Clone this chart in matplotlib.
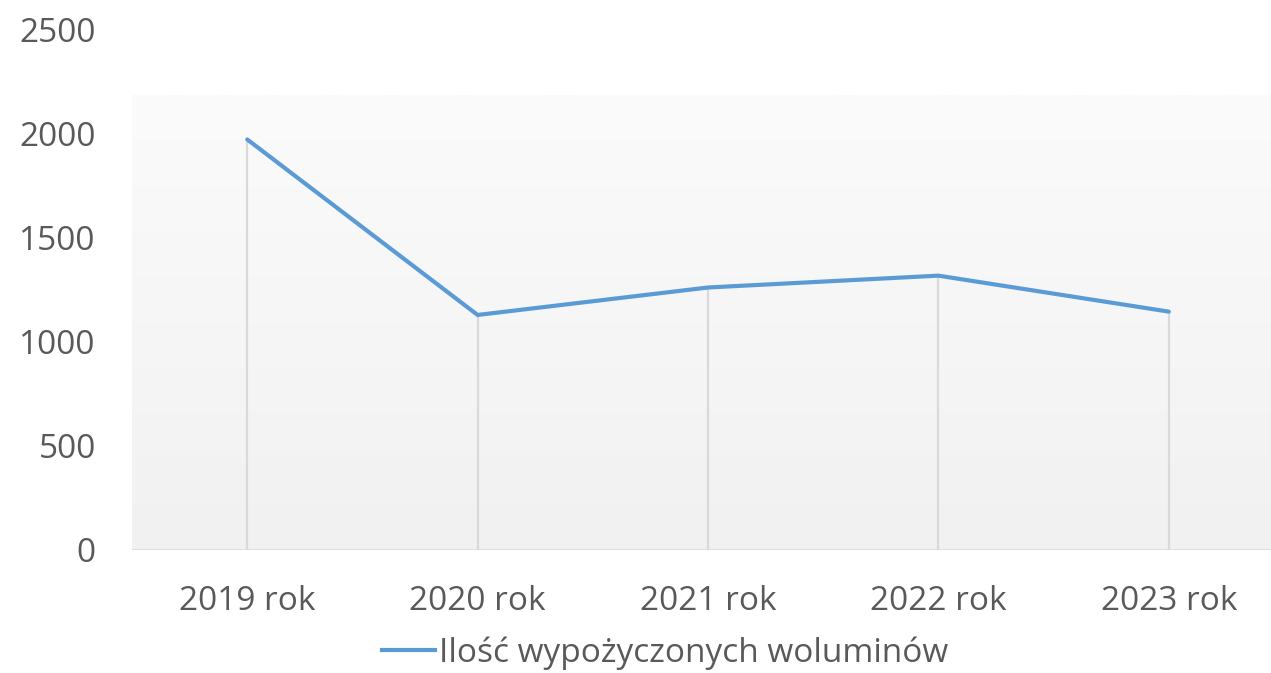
import matplotlib
matplotlib.use("Agg")
import matplotlib.pyplot as plt
import numpy as np
from matplotlib.lines import Line2D
from matplotlib.colors import LinearSegmentedColormap

categories = ["2019 rok", "2020 rok", "2021 rok", "2022 rok", "2023 rok"]
values = [1974, 1130, 1262, 1319, 1146]
series_name = "Ilość wypożyczonych woluminów"
yticks = [0, 500, 1000, 1500, 2000, 2500]

plt.rcParams['font.family'] = ['Open Sans', 'DejaVu Sans']
text_color = "#595959"
line_color = "#5B9BD5"
grid_color = "#d9d9d9"

W, H = 1271, 673
fig = plt.figure(figsize=(W / 100, H / 100), dpi=100)
left = 132 / W
right = 1284 / W
bottom = (H - 550) / H
top = (H - 30) / H
ax = fig.add_axes([left, bottom, right - left, top - bottom])
ax.set_xlim(-0.5, len(categories) - 0.5)
ax.set_ylim(0, 2500)

# gradient plot-area background
grad_top = 2187
cmap = LinearSegmentedColormap.from_list("bg", ["#f1f1f1", "#fbfbfb"])
grad = np.linspace(0, 1, 256).reshape(-1, 1)
ax.imshow(grad, cmap=cmap, aspect="auto", origin="lower",
          extent=(-0.5, len(categories) - 0.5, 0, grad_top), zorder=0)

x = np.arange(len(categories))
# drop lines
ax.vlines(x, 0, values, colors=grid_color, linewidth=1.6, zorder=1)
# base axis
ax.axhline(0, color=grid_color, linewidth=1.8, zorder=1)
ax.plot(x, values, color=line_color, linewidth=3.0, solid_capstyle="round",
        solid_joinstyle="round", zorder=3)

for s in ax.spines.values():
    s.set_visible(False)
ax.set_xticks(x)
ax.set_xticklabels(categories)
ax.set_yticks(yticks)
ax.set_yticklabels([str(t) for t in yticks])
ax.tick_params(axis="both", length=0, labelsize=24, colors=text_color)
ax.tick_params(axis="y", pad=26)
ax.tick_params(axis="x", pad=25)

handle = Line2D([0], [0], color=line_color, linewidth=3.0)
leg = ax.legend([handle], [series_name], loc="center",
                bbox_to_anchor=(665 / W, 1 - 653 / H), bbox_transform=fig.transFigure,
                frameon=False, fontsize=24, handlelength=1.6, handletextpad=0.1,
                borderpad=0)
for t in leg.get_texts():
    t.set_color(text_color)

fig.savefig("out.png", dpi=100)
